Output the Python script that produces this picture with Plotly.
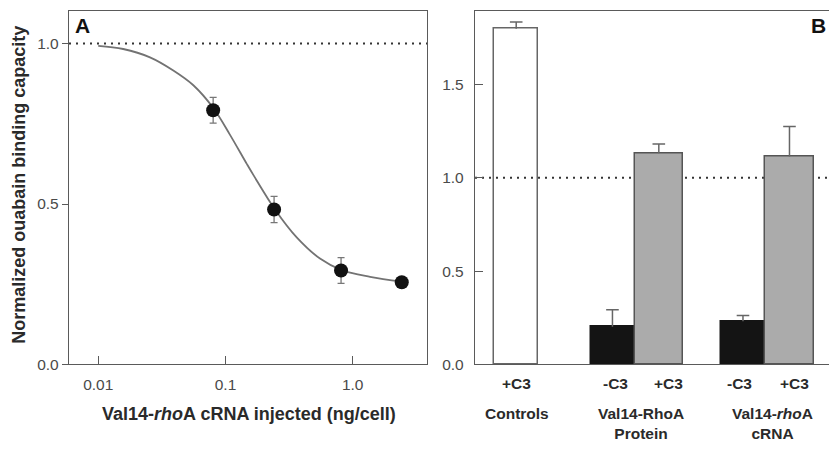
import plotly.graph_objects as go

# ---------------- data ----------------
# Panel A: dose-response
dose = [0.080, 0.241, 0.81, 2.43]
binding = [0.792, 0.483, 0.293, 0.256]
binding_err = [0.040, 0.041, 0.040, 0.010]

# fitted curve
curve_x = [0.0100, 0.0157, 0.0255, 0.0389, 0.0559, 0.0802, 0.108, 0.147, 0.166,
           0.245, 0.363, 0.553, 0.819, 1.37, 2.43]
curve_y = [0.993, 0.983, 0.957, 0.916, 0.870, 0.799, 0.717, 0.625, 0.590,
           0.483, 0.396, 0.330, 0.294, 0.273, 0.258]

a_xticks = [0.01, 0.1, 1.0]
a_xticklabels = ["0.01", "0.1", "1.0"]
a_yticks = [0.0, 0.5, 1.0]
a_yticklabels = ["0.0", "0.5", "1.0"]

# Panel B: bars
bar_labels = ["+C3", "-C3", "+C3", "-C3", "+C3"]
bar_values = [1.798, 0.202, 1.132, 0.232, 1.114]
bar_err = [0.037, 0.091, 0.049, 0.030, 0.161]
group_labels = ["Controls", "Val14-RhoA<br>Protein", "Val14-<i>rho</i>A<br>cRNA"]
b_yticks = [0.0, 0.5, 1.0, 1.5]
b_yticklabels = ["0.0", "0.5", "1.0", "1.5"]

# ---------------- layout helpers ----------------
W, H = 829, 455
def px(x):
    return x / W
def py(y):
    return 1 - y / H

FONT = "Arial, Liberation Sans, Helvetica, sans-serif"
TICKC = "#4a4a4a"
TITLEC = "#2a2a2a"
FRAME = "#5a5a5a"

# bar geometry (slot units)
bar_pos = [0.0, 2.07, 3.067, 4.877, 5.877]
bar_w = [0.95, 0.94, 1.04, 0.95, 1.04]
bar_fill = ["rgba(0,0,0,0)", "#141414", "#ababab", "#141414", "#ababab"]
bar_line = ["#666666", "#141414", "#555555", "#141414", "#555555"]

fig = go.Figure()

# Panel A
fig.add_trace(go.Scatter(
    x=curve_x, y=curve_y, mode="lines", line=dict(color="#737373", width=1.8, shape="spline"),
    xaxis="x", yaxis="y", hoverinfo="skip", showlegend=False))
fig.add_trace(go.Scatter(
    x=dose, y=binding, mode="markers",
    marker=dict(size=14, color="#111111"),
    error_y=dict(type="data", array=binding_err, color="#777777", thickness=1.3, width=3.5),
    xaxis="x", yaxis="y", showlegend=False))

# Panel B
fig.add_trace(go.Bar(
    x=bar_pos, y=bar_values, width=bar_w,
    marker=dict(color=bar_fill, line=dict(color=bar_line, width=1.5)),
    xaxis="x2", yaxis="y2", showlegend=False, hoverinfo="skip"))
# upper-only error bars: cap marker at the top, stem drawn downward to the bar top
err_top = [v + e for v, e in zip(bar_values, bar_err)]
fig.add_trace(go.Scatter(
    x=bar_pos, y=err_top, mode="markers",
    marker=dict(symbol="line-ew", size=9, line=dict(color="#666666", width=1.5)),
    error_y=dict(type="data", symmetric=False, array=[0] * len(bar_err), arrayminus=bar_err,
                 color="#666666", thickness=1.5, width=0),
    xaxis="x2", yaxis="y2", showlegend=False, hoverinfo="skip"))

axis_common = dict(showgrid=False, zeroline=False, showline=True, linecolor=FRAME, linewidth=1.4,
                   tickcolor=FRAME, tickfont=dict(family=FONT, size=15.5, color=TICKC))

fig.update_layout(
    width=W, height=H, margin=dict(l=0, r=0, t=0, b=0),
    paper_bgcolor="white", plot_bgcolor="white",
    xaxis=dict(axis_common, domain=[px(69), px(427)], anchor="y", type="log",
               range=[-2.23, 0.584], tickvals=a_xticks, ticktext=a_xticklabels,
               ticks="inside", ticklen=8, mirror=True, ticklabelstandoff=6),
    yaxis=dict(axis_common, domain=[py(371), py(11)], anchor="x", range=[0, 1.102],
               tickvals=a_yticks, ticktext=a_yticklabels, ticks="outside", ticklen=6, mirror=True),
    xaxis2=dict(axis_common, domain=[px(475), 1.0], anchor="y2", range=[-0.886, 6.727],
                showticklabels=False, ticks="", mirror=True),
    yaxis2=dict(axis_common, domain=[py(371), py(11.7)], anchor="x2", range=[0, 1.891],
                tickvals=b_yticks, ticktext=b_yticklabels, ticks="inside", ticklen=8,
                ticklabelstandoff=7),
    bargap=0,
)

dot = dict(color="#333333", width=2, dash="2px,5px")
fig.add_shape(type="line", xref="x domain", yref="y", x0=0, x1=1, y0=1, y1=1, line=dot, layer="below")
fig.add_shape(type="line", xref="x2 domain", yref="y2", x0=0, x1=1, y0=1, y1=1, line=dot, layer="below")

ann = []
def text(x, y, s, size=15.5, color=TITLEC, angle=0, bold=True):
    ann.append(dict(x=px(x), y=py(y), xref="paper", yref="paper", text=(f"<b>{s}</b>" if bold else s),
                    showarrow=False, xanchor="center", yanchor="middle", textangle=angle,
                    font=dict(family=FONT, size=size, color=color)))

text(82, 26, "A", size=21, color="#111")
text(818, 26, "B", size=21, color="#111")
text(19, 188, "Normalized ouabain binding capacity", size=18, angle=-90)
text(249, 421, "Val14-<i>rho</i>A cRNA injected (ng/cell)", size=18)

label_px = [516.7, 615, 668.3, 739, 794]
for x, s in zip(label_px, bar_labels):
    text(x, 390, s)
group_px = [(516.7, 421), (640.5, 431.5), (772, 431.5)]
for (x, y), s in zip(group_px, group_labels):
    text(x, y, s)
fig.update_layout(annotations=ann)

fig.write_html("out.html")
